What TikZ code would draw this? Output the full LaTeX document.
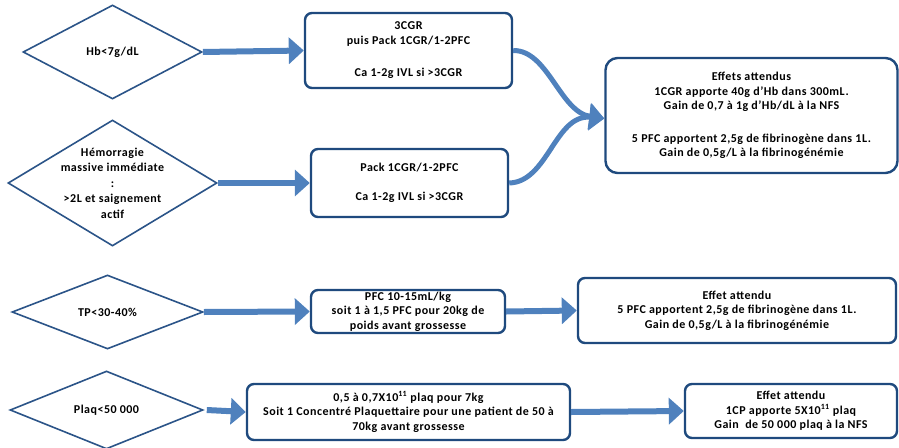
\documentclass[tikz,border=0pt]{standalone}
\usepackage{fontspec}
\setmainfont{Carlito}[LetterSpace=4]
\usetikzlibrary{shapes.geometric,arrows.meta}
\definecolor{dblue}{HTML}{2B5488}
\definecolor{bblue}{HTML}{1F4A7E}
\definecolor{ablue}{HTML}{4F81BD}
\tikzset{
  dia/.style={shape=diamond, draw=dblue, line width=1.6pt, fill=white, inner sep=0pt},
  box/.style={draw=bblue, line width=2.4pt, rounded corners=7pt, fill=white, align=center, inner sep=0pt,
    font=\bfseries\fontsize{12}{14.5}\selectfont},
  txt/.style={font=\bfseries\fontsize{12}{14.5}\selectfont, align=center, inner sep=0pt},
  flow/.style={draw=ablue, line width=6pt, -{Triangle[length=15pt,width=26pt]}},
  cflow/.style={draw=ablue, line width=5pt, -{Triangle[length=15pt,width=26pt]}},
}
\begin{document}
\begin{tikzpicture}[x=1pt,y=-1pt]
\useasboundingbox (0,0) rectangle (899,447);
% diamonds
\node[dia, minimum width=179pt, minimum height=94pt] (d1) at (112.5,52) {};
\node[txt] (d1t) at (d1.center) {Hb<7g/dL};
\node[dia, minimum width=209pt, minimum height=126pt] (d2) at (112.5,183) {};
\node[txt, font=\bfseries\fontsize{12}{15.5}\selectfont] (d2t) at (d2.center) {Hémorragie\\massive immédiate\\:\\>2L et saignement\\actif};
\node[dia, minimum width=191pt, minimum height=74pt] (d3) at (107.5,312) {};
\node[txt] (d3t) at (d3.center) {TP<30-40\%};
\node[dia, minimum width=193pt, minimum height=78pt] (d4) at (106.5,410) {};
\node[txt] (d4t) at (d4.center) {Plaq<50 000};
% boxes
\node[box, minimum width=207pt, minimum height=75pt] (b1) at (408.5,50.5)
  {3CGR\\puis Pack 1CGR/1-2PFC\\[18pt]Ca 1-2g IVL si >3CGR};
\node[box, minimum width=197pt, minimum height=68pt] (b2) at (409.5,183)
  {Pack 1CGR/1-2PFC\\[14pt]Ca 1-2g IVL si >3CGR};
\node[box, rounded corners=12pt, minimum width=292pt, minimum height=115pt] (ef) at (751.5,115.5)
  {Effets attendus\\1CGR apporte 40g d'Hb dans 300mL.\\Gain de 0,7 à 1g d'Hb/dL à la NFS\\[18pt]5 PFC apportent 2,5g de fibrinogène dans 1L.\\Gain de 0,5g/L à la fibrinogénémie};
\node[box, minimum width=194pt, minimum height=43pt] (b3) at (408,311.5)
  {PFC 10-15mL/kg\\soit 1 à 1,5 PFC pour 20kg de\\poids avant grossesse};
\node[box, minimum width=318pt, minimum height=65pt] (b4) at (737,310.5)
  {Effet attendu\\5 PFC apportent 2,5g de fibrinogène dans 1L.\\Gain de 0,5g/L à la fibrinogénémie};
\node[box, minimum width=323pt, minimum height=56pt] (b5) at (408.5,412)
  {0,5 à 0,7X10\textsuperscript{11} plaq pour 7kg\\Soit 1 Concentré Plaquettaire pour une patient de 50 à\\70kg avant grossesse};
\node[box, minimum width=212pt, minimum height=54pt] (b6) at (791,411)
  {Effet attendu\\1CP apporte 5X10\textsuperscript{11} plaq\\Gain\ \ de 50 000 plaq à la NFS};
% connectors
\draw[flow] (d1.east) -- (b1.west);
\draw[flow] (d2.east) -- (b2.west);
\draw[flow] (d3.east) -- (b3.west);
\draw[flow] ([xshift=3pt]d4.east) -- (b5.west);
\draw[flow] (b3.east) -- (b4.west);
\draw[flow] (b5.east) -- (b6.west);
\coordinate (efin) at ([yshift=-3pt]ef.west);
\draw[cflow] (b1.east) .. controls (548,50) and (560,112) .. (efin);
\draw[cflow] (b2.east) .. controls (548,182) and (555,114) .. (efin);
\end{tikzpicture}
\end{document}
